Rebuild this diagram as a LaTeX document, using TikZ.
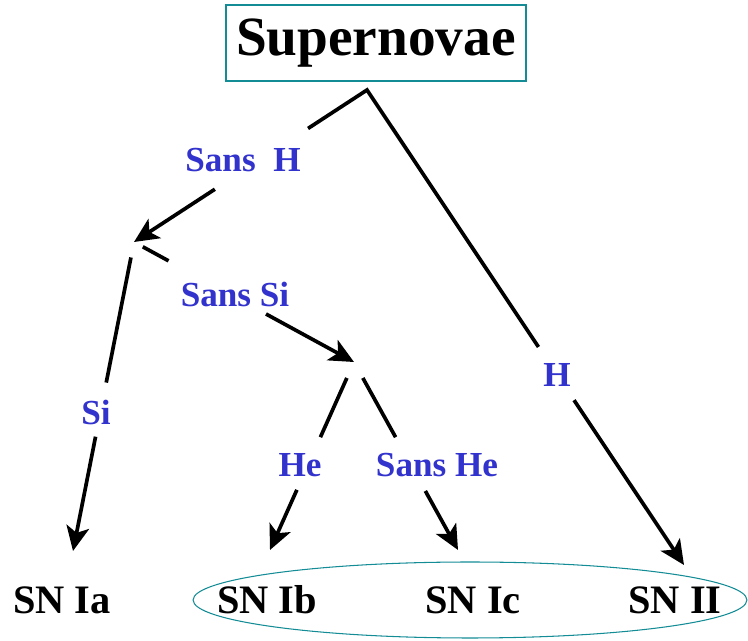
\documentclass[tikz,border=0pt]{standalone}
\usepackage{fontspec}
\setmainfont{Liberation Serif}
\usetikzlibrary{arrows.meta,calc,shapes.geometric}
\definecolor{lblblue}{RGB}{50,50,205}
\definecolor{rimteal}{RGB}{20,140,150}

\begin{document}
\begin{tikzpicture}[x=0.02cm, y=-0.02cm,
        title/.style={draw=rimteal, line width=0.7pt, inner sep=0pt, minimum width=6cm, minimum height=1.52cm, font=\fontsize{31.5}{36}\selectfont\bfseries},
        sn/.style={inner sep=0pt, font=\fontsize{23}{27}\selectfont\bfseries},
        lbl/.style={inner sep=0pt, text=lblblue, font=\fontsize{20}{24}\selectfont\bfseries},
        family/.style={draw=rimteal, line width=0.6pt, ellipse, minimum width=11.08cm, minimum height=1.52cm},
        link/.style={line width=2.1pt},
        arrow/.style={line width=2.1pt, -{Stealth[length=14pt,width=13pt,inset=3.5pt]}}
    ]
        \useasboundingbox (0,0) rectangle (748,641);

        \node[title] (title) at (376,43) {Supernovae};

        \coordinate (apex) at (367,90);
        \coordinate (j1) at (134,242);
        \coordinate (j2) at (354,362);
        \coordinate (tipIa) at (73,551);
        \coordinate (tipIb) at (270,550);
        \coordinate (tipIc) at (458,550);
        \coordinate (tipII) at (684,565);

        \node[family] (typeI) at (470,600) {};
        \node[sn] (snIa) at (62,600) {SN Ia};
        \node[sn] (snIb) at (267,600) {SN Ib};
        \node[sn] (snIc) at (473,600) {SN Ic};
        \node[sn] (snII) at (675,600) {SN II};

        \node[lbl] (sansH) at (243,160) {Sans~~H};
        \node[lbl] (h) at (557,375) {H};
        \node[lbl] (si) at (96,412) {Si};
        \node[lbl] (sansSi) at (235,294) {Sans Si};
        \node[lbl] (he) at (300,465) {He};
        \node[lbl] (sansHe) at (437,465) {Sans He};

        \draw[link] ($(apex)!0.253!(j1)$) -- (apex) -- ($(apex)!0.541!(tipII)$);
        \draw[arrow] ($(apex)!0.653!(j1)$) -- (j1);
        \draw[arrow] ($(apex)!0.653!(tipII)$) -- (tipII);

        \draw[link] ($(j1)!0.05!(tipIa)$) -- ($(j1)!0.455!(tipIa)$);
        \draw[arrow] ($(j1)!0.63!(tipIa)$) -- (tipIa);
        \draw[link] ($(j1)!0.04!(j2)$) -- ($(j1)!0.157!(j2)$);
        \draw[arrow] ($(j1)!0.6!(j2)$) -- (j2);

        \draw[link] ($(j2)!0.085!(tipIb)$) -- ($(j2)!0.4!(tipIb)$);
        \draw[arrow] ($(j2)!0.68!(tipIb)$) -- (tipIb);
        \draw[link] ($(j2)!0.085!(tipIc)$) -- ($(j2)!0.4!(tipIc)$);
        \draw[arrow] ($(j2)!0.686!(tipIc)$) -- (tipIc);
    \end{tikzpicture}
\end{document}
